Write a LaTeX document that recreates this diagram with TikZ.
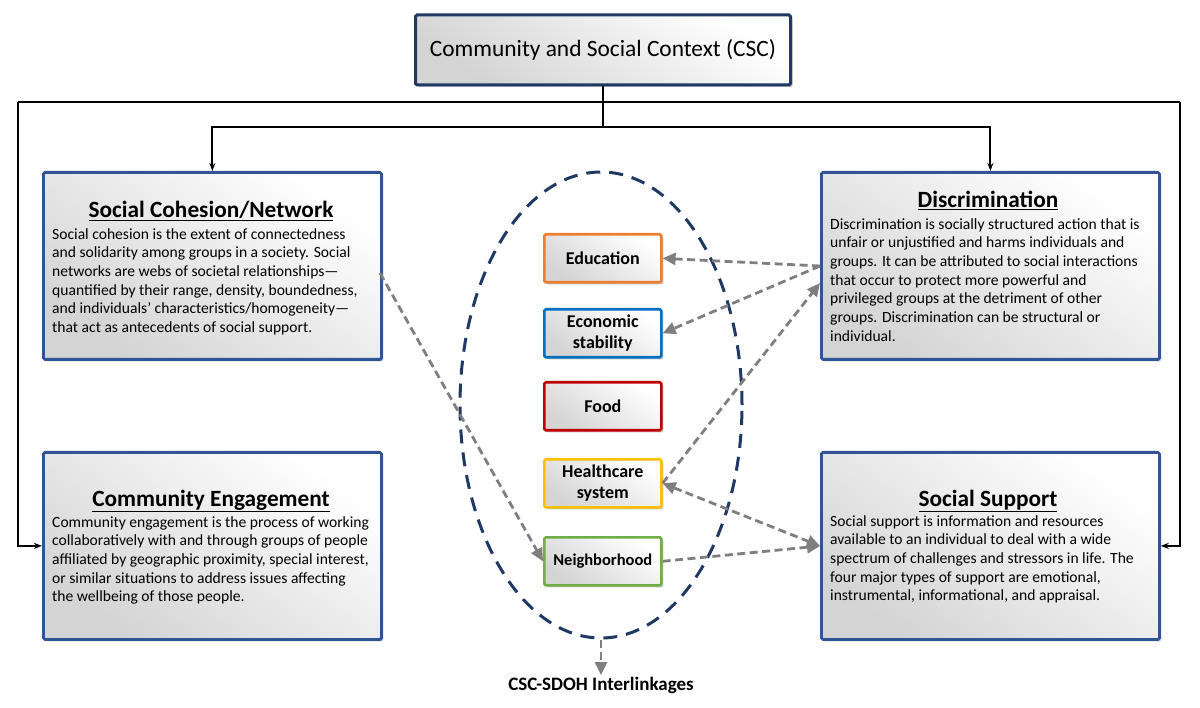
\documentclass[tikz,border=0pt]{standalone}
\usepackage{fontspec}
\setmainfont{Carlito}
\usetikzlibrary{arrows.meta,shadows,calc,shapes.geometric}
\definecolor{boxblue}{HTML}{2F5597}
\definecolor{navy}{HTML}{1F3864}
\definecolor{garrow}{HTML}{7F7F7F}
\definecolor{cEdu}{HTML}{ED7D31}
\definecolor{cEco}{HTML}{0070C0}
\definecolor{cFood}{HTML}{C00000}
\definecolor{cHc}{HTML}{FFC000}
\definecolor{cNb}{HTML}{70AD47}
\tikzset{
  shadedfill/.style={top color=white, bottom color=black!17, shading angle=-35,
    rounded corners=1.5pt,
    drop shadow={opacity=0.45, shadow xshift=2pt, shadow yshift=-2pt}},
  bigbox/.style={shadedfill, draw=boxblue, line width=2.8pt, anchor=north west,
    minimum width=338pt, minimum height=187pt},
  smallbox/.style={shadedfill, line width=2.6pt, anchor=north west,
    minimum width=117pt, minimum height=48pt, align=center,
    font=\fontsize{18}{21.5}\selectfont\bfseries},
  boxtitle/.style={font=\fontsize{23.3}{26}\selectfont\bfseries, anchor=base},
  boxbody/.style={font=\fontsize{15.6}{18.7}\selectfont, align=left, anchor=north west, inner sep=0pt},
  blk/.style={line width=2pt, draw=black},
  blkarr/.style={blk, -{Stealth[length=8pt,width=6pt]}},
  gtip/.style={},
  garr/.style={draw=garrow, line width=2.8pt, dash pattern=on 8pt off 4.5pt,
    -{Triangle[length=13pt,width=12pt]}},
}
\begin{document}
\begin{tikzpicture}[x=1pt,y=-1pt]
\useasboundingbox (0,0) rectangle (1200,708);

% top box
\node[shadedfill, draw=navy, line width=3pt, minimum width=375pt, minimum height=70pt,
  font=\fontsize{23.4}{27}\selectfont] (csc) at (603,50) {Community and Social Context (CSC)};

% big boxes
\node[bigbox] (sc) at (42,171) {};
\node[bigbox] (di) at (820,171) {};
\node[bigbox] (ce) at (42,451) {};
\node[bigbox] (ss) at (820,451) {};

% titles
\node[boxtitle] (sct) at (211,218) {\underline{Social Cohesion/Network}};
\node[boxtitle] (dit) at (988,208) {\underline{Discrimination}};
\node[boxtitle] (cet) at (211,506) {\underline{Community Engagement}};
\node[boxtitle] (sst) at (988,506) {\underline{Social Support}};

% bodies
\node[boxbody] (scb) at (52,228) {Social cohesion is the extent of connectedness\\
and solidarity among groups in a society. Social\\
networks are webs of societal relationships---\\
quantified by their range, density, boundedness,\\
and individuals' characteristics/homogeneity---\\
that act as antecedents of social support.};
\node[boxbody] (dib) at (830,218) {Discrimination is socially structured action that is\\
unfair or unjustified and harms individuals and\\
groups. It can be attributed to social interactions\\
that occur to protect more powerful and\\
privileged groups at the detriment of other\\
groups. Discrimination can be structural or\\
individual.};
\node[boxbody] (ceb) at (52,516) {Community engagement is the process of working\\
collaboratively with and through groups of people\\
affiliated by geographic proximity, special interest,\\
or similar situations to address issues affecting\\
the wellbeing of those people.};
\node[boxbody] (ssb) at (830,515) {Social support is information and resources\\
available to an individual to deal with a wide\\
spectrum of challenges and stressors in life. The\\
four major types of support are emotional,\\
instrumental, informational, and appraisal.};

% ellipse
\node[draw=navy, line width=3pt, dash pattern=on 14pt off 9pt, ellipse, minimum width=282pt,
  minimum height=466pt, inner sep=0pt] (ell) at (601,405) {};

% small boxes
\node[smallbox, draw=cEdu] (edu) at (543,233) {Education};
\node[smallbox, draw=cEco] (eco) at (543,308) {Economic\\stability};
\node[smallbox, draw=cFood] (food) at (543,381) {Food};
\node[smallbox, draw=cHc] (hc) at (543,458) {Healthcare\\system};
\node[smallbox, draw=cNb, font=\fontsize{16.5}{19}\selectfont\bfseries] (nb) at (543,536) {Neighborhood};

% label
\node[font=\fontsize{19}{22}\selectfont\bfseries, anchor=north, inner sep=2pt] (lab) at (601,675) {CSC-SDOH Interlinkages};

% black connectors
\coordinate (j1) at (603,102);
\coordinate (j2) at (603,127);
\coordinate (l1) at (18,102);
\coordinate (r1) at (1180,102);
\draw[blk] (csc.south) -- (j2);
\draw[blk] (l1) -- (r1);
\draw[blkarr] (l1) |- (ce.west);
\draw[blkarr] (r1) |- (ss.east);
\draw[blkarr] (j2) -| (sc.north);
\draw[blkarr] (j2) -| (di.north);

% grey dashed connectors
\coordinate (d1) at (820,266);
\coordinate (d2) at (820,283);
\coordinate (s1) at (820,546);
\coordinate (c1) at (380,273);
\draw[garr] (d1) -- (edu.east);
\draw[garr] (d1) -- (eco.east);
\draw[garr] (hc.east) -- (d2);
\draw[garr, {Triangle[length=13pt,width=12pt]}-{Triangle[length=13pt,width=12pt]}] (hc.east) -- (s1);
\draw[garr] (nb.east) -- (s1);
\draw[garr] (c1) -- (nb.west);
\draw[garr] (ell.south) -- (lab.north);
\end{tikzpicture}
\end{document}
